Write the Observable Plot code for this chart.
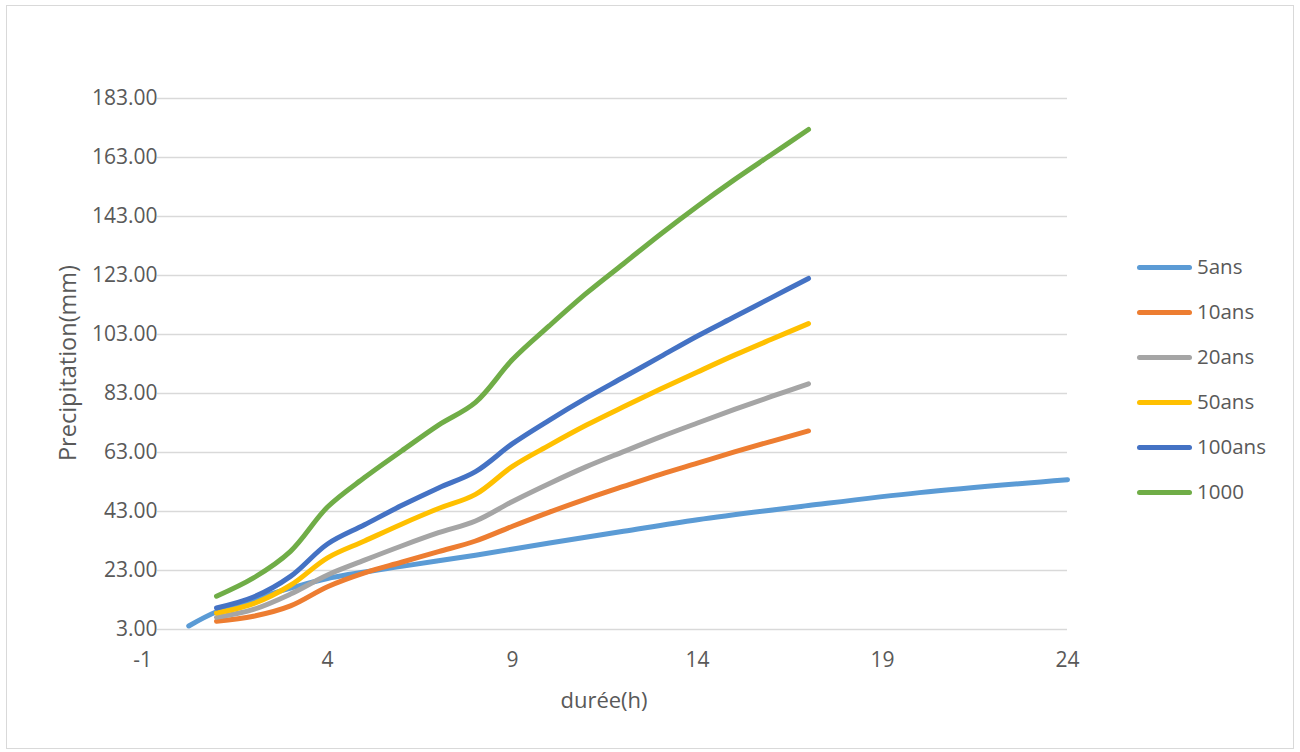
<!DOCTYPE html>
<html>
<head>
<meta charset="utf-8">
<script src="https://cdn.jsdelivr.net/npm/d3@7"></script>
<script src="https://cdn.jsdelivr.net/npm/@observablehq/plot@0.6"></script>
<style>
  body { margin: 0; background: #fff; }
  #wrap { position: relative; width: 1300px; height: 752px; font-family: "Open Sans", sans-serif; color: #595959; overflow: hidden; }
  #frame { position: absolute; left: 6px; top: 5px; width: 1288px; height: 744px; border: 1px solid #d9d9d9; box-sizing: border-box; pointer-events: none; }
  #chart { position: absolute; left: 0; top: 0; }
  .ytitle { position: absolute; left: 67px; top: 363px; transform: translate(-50%, -50%) rotate(-90deg); white-space: nowrap; font-size: 23.5px; }
  .xtitle { position: absolute; left: 604px; top: 699px; transform: translate(-50%, -50%); white-space: nowrap; font-size: 22px; }
  .legend { position: absolute; left: 1137px; top: 267px; }
  .item { position: absolute; left: 0; height: 0; white-space: nowrap; font-size: 20.5px; }
  .swatch { position: absolute; left: 0; top: -2.5px; width: 55px; height: 5px; border-radius: 3px; }
  .lab { position: absolute; left: 60px; top: 0; transform: translateY(-52%); line-height: 1; }
</style>
</head>
<body>
<div id="wrap">
  <div id="frame"></div>
  <div id="chart"></div>
  <div class="ytitle">Precipitation(mm)</div>
  <div class="xtitle">durée(h)</div>
  <div class="legend" id="legend"></div>
</div>
<script>
// ---- data ----
const seriesNames = ["5ans", "10ans", "20ans", "50ans", "100ans", "1000"];
const seriesColors = ["#5B9BD5", "#ED7D31", "#A5A5A5", "#FFC000", "#4472C4", "#70AD47"];

const hours5 = [0.25, 1, 2, 3, 4, 6, 8, 10, 12, 14, 17, 20, 24];
const p5ans  = [4.2, 9, 13.2, 17, 20.3, 24.4, 28.2, 32.3, 36.3, 40.2, 45, 49.4, 53.8];

const hours = [1, 2, 3, 4, 5, 6, 7, 8, 9, 10, 11, 12, 13, 14, 15, 16, 17];
const p10ans  = [5.8, 7.5, 11, 17.5, 22.2, 25.8, 29.4, 33, 38, 42.8, 47.3, 51.5, 55.6, 59.4, 63.2, 66.8, 70.3];
const p20ans  = [7.1, 9.8, 15, 21.5, 26.5, 31.3, 35.8, 39.8, 46.4, 52.5, 58.2, 63.3, 68.3, 73, 77.6, 82, 86.3];
const p50ans  = [8.6, 11.8, 18, 27.3, 33, 38.7, 44, 48.8, 58.3, 65.5, 72.3, 78.5, 84.5, 90.3, 96, 101.4, 106.7];
const p100ans = [10.3, 14, 21, 32, 38.5, 45, 51, 56.5, 66, 74, 81.5, 88.5, 95.5, 102.5, 109, 115.5, 122];
const p1000   = [14.3, 20.5, 29.5, 44.5, 54.5, 63.5, 72.3, 80, 94.5, 106, 117, 127, 137, 146.5, 155.5, 164, 172.5];

const xTicks = [-1, 4, 9, 14, 19, 24];
const yTicks = [3, 23, 43, 63, 83, 103, 123, 143, 163, 183];

// ---- build table ----
const seriesData = [
  {name: "5ans", x: hours5, v: p5ans},
  {name: "10ans", x: hours, v: p10ans},
  {name: "20ans", x: hours, v: p20ans},
  {name: "50ans", x: hours, v: p50ans},
  {name: "100ans", x: hours, v: p100ans},
  {name: "1000", x: hours, v: p1000}
];
const rows = [];
for (const s of seriesData) s.x.forEach((h, i) => rows.push({serie: s.name, h, v: s.v[i]}));

const chart = Plot.plot({
  width: 1300,
  height: 752,
  marginLeft: 142,
  marginRight: 233,
  marginTop: 98,
  marginBottom: 123,
  style: {fontFamily: "Open Sans, sans-serif", fontSize: "21px", color: "#595959", background: "transparent"},
  x: {domain: [-1, 24]},
  y: {domain: [3, 183]},
  color: {domain: seriesNames, range: seriesColors},
  marks: [
    Plot.ruleY(yTicks, {stroke: "#d9d9d9", strokeWidth: 1.6, insetLeft: 15}),
    Plot.axisX({ticks: xTicks, tickSize: 0, tickPadding: 23, tickFormat: d => String(d), label: null}),
    Plot.axisY({ticks: yTicks, tickSize: 0, tickPadding: 0, dx: 15, tickFormat: d3.format(".2f"), label: null}),
    Plot.line(rows, {x: "h", y: "v", z: "serie", stroke: "serie", curve: "catmull-rom", strokeWidth: 5, strokeLinecap: "round", strokeLinejoin: "round"})
  ]
});
document.getElementById("chart").appendChild(chart);

// ---- legend ----
const legend = document.getElementById("legend");
seriesNames.forEach((n, i) => {
  const it = document.createElement("div");
  it.className = "item";
  it.style.top = (i * 45) + "px";
  it.innerHTML = `<span class="swatch" style="background:${seriesColors[i]}"></span><span class="lab">${n}</span>`;
  legend.appendChild(it);
});
</script>
</body>
</html>
